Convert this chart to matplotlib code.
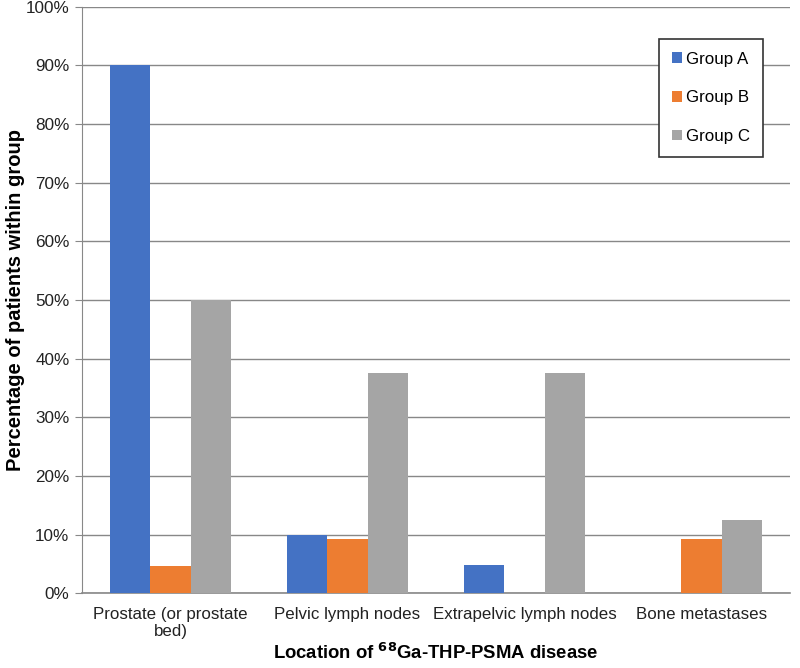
import matplotlib.pyplot as plt
import numpy as np

plt.rcParams['font.family'] = ['Liberation Sans', 'DejaVu Sans']

# Datos
categorias = ['Prostate (or prostate\nbed)', 'Pelvic lymph nodes',
              'Extrapelvic lymph nodes', 'Bone metastases']
grupo_a = [90.0, 10.0, 4.8, 0.0]
grupo_b = [4.7, 9.3, 0.0, 9.3]
grupo_c = [50.0, 37.5, 37.5, 12.5]
series = ['Group A', 'Group B', 'Group C']
colores = ['#4472C4', '#ED7D31', '#A5A5A5']

fig = plt.figure(figsize=(8, 6.68), dpi=100)
ax = fig.add_axes([0.1025, 0.112, 0.885, 0.878])

x = np.arange(len(categorias))
w = 0.226
for i, (vals, nom, col) in enumerate(zip([grupo_a, grupo_b, grupo_c], series, colores)):
    ax.bar(x + (i - 1) * w, vals, width=w, color=col, label=nom, zorder=3)

ax.set_xlim(-0.5, len(categorias) - 0.5)
ax.set_ylim(0, 100)
ax.set_yticks(np.arange(0, 101, 10))
ax.set_yticklabels([f'{v}%' for v in range(0, 101, 10)], fontsize=12.3, color='#222222')
ax.set_xticks(x)
ax.set_xticklabels(categorias, fontsize=12.2, color='#222222')
ax.tick_params(axis='x', length=0, pad=10)
ax.tick_params(axis='y', length=5, color='#888888', direction='out', pad=4)
ax.grid(axis='y', color='#888888', linewidth=1, zorder=0)

for s in ['top', 'right']:
    ax.spines[s].set_visible(False)
ax.spines['left'].set_color('#888888')
ax.spines['bottom'].set_color('#888888')
ax.spines['bottom'].set_linewidth(1.2)

ax.set_ylabel('Percentage of patients within group', fontsize=14.5, fontweight='bold')
ax.yaxis.set_label_coords(-0.08, 0.5)
ax.set_xlabel('Location of $\\mathbf{^{68}}$Ga-THP-PSMA disease', fontsize=13.3,
              fontweight='bold')
ax.xaxis.set_label_coords(0.5, -0.084)

leg = ax.legend(loc='upper right', bbox_to_anchor=(0.962, 0.945), borderaxespad=0,
                fontsize=12.2, handlelength=0.6, handleheight=0.6, handletextpad=0.25,
                labelspacing=1.4, borderpad=0.75, fancybox=False,
                edgecolor='#333333', framealpha=1)
leg.get_frame().set_linewidth(1.2)

plt.savefig('out.png', dpi=100)
